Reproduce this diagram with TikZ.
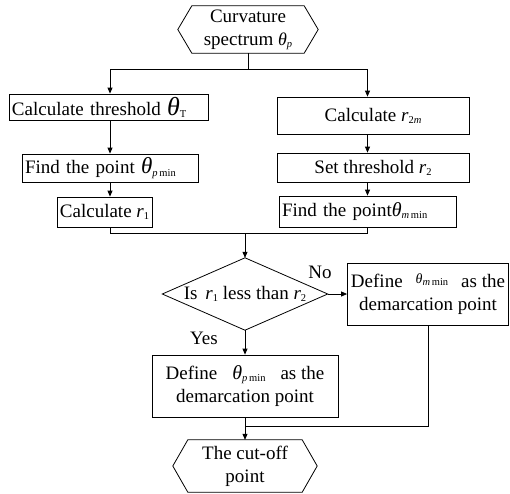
\documentclass[tikz,border=0pt]{standalone}
\usepackage{fontspec}
\setmainfont{Liberation Serif}
\usetikzlibrary{arrows.meta}
\newcommand\sbs[1]{\raisebox{-0.25ex}{\fontsize{10.5}{10.5}\selectfont #1}}
\newcommand\thet[1]{{\fontsize{#1}{#1}\selectfont\itshape θ}}
\begin{document}
\begin{tikzpicture}[x=1pt,y=1pt,
  every node/.style={font=\fontsize{19}{23}\selectfont, inner sep=0pt},
  ln/.style={line width=0.8pt},
  box/.style={draw, ln, align=center},
  lbox/.style={draw, ln, align=left, inner xsep=3pt, text width=#1},
  arr/.style={ln, -{Triangle[length=6pt,width=5pt]}}]
\useasboundingbox (0,0) rectangle (510,-493);

% start hexagon
\node[align=center, minimum width=112, minimum height=47] (start) at (248,-29.5)
  {Curvature\\spectrum \thet{18}\sbs{\itshape p}};
\draw[ln] ([xshift=-14]start.west) -- (start.north west) -- (start.north east)
  -- ([xshift=14]start.east) -- (start.south east) -- (start.south west) -- cycle;

% left column
\node[lbox=193, minimum height=26] (calcT) at (108.5,-107)
  {Calculate threshold \thet{26}\sbs{T}};
\node[lbox=170, minimum height=28] (findP) at (110,-168)
  {Find the point \thet{23}\sbs{\itshape p\,\upshape min}};
\node[box, minimum width=95, minimum height=30] (calcR1) at (104.5,-212)
  {Calculate {\itshape r}\sbs{1}};

% right column
\node[box, minimum width=192, minimum height=37] (calcR2) at (373,-115.5)
  {Calculate {\itshape r}\sbs{2\itshape m}};
\node[box, minimum width=192, minimum height=29] (setR2) at (373,-167.5)
  {Set threshold {\itshape r}\sbs{2}};
\node[lbox=171, minimum height=31] (findM) at (367.5,-211.5)
  {Find the point\thet{20}\sbs{\itshape m\,\upshape min}};

% diamond
\node[minimum width=165, minimum height=72] (dia) at (245,-294)
  {Is \,{\itshape r}\sbs{1} less than {\itshape r}\sbs{2}};
\draw[ln] (dia.west) -- (dia.north) -- (dia.east) -- (dia.south) -- cycle;

% define boxes
\node[box, minimum width=161, minimum height=62] (defM) at (428,-294)
  {Define\hspace{13pt}\raisebox{0.5ex}{\thet{14}\sbs{\itshape m\,\upshape min}}\hspace{13pt}as the\\demarcation point};
\node[box, minimum width=186, minimum height=62] (defP) at (245,-386)
  {Define\hspace{15pt}\thet{20}\sbs{\itshape p\,\upshape min}\hspace{15pt}as the\\demarcation point};

% end hexagon
\node[align=center, minimum width=114, minimum height=52] (stop) at (245,-466)
  {The cut-off\\point};
\draw[ln] ([xshift=-15]stop.west) -- (stop.north west) -- (stop.north east)
  -- ([xshift=15]stop.east) -- (stop.south east) -- (stop.south west) -- cycle;

% labels
\node (no) at (320,-272) {No};
\node (yes) at (204,-338) {Yes};

% connectors
\coordinate (j1) at (248,-69);
\coordinate (j2) at (245,-233);
\coordinate (j3) at (245,-426);
\draw[ln] (start.south) -- (j1);
\draw[arr] (j1) -| (findP.north |- calcT.north);
\draw[arr] (j1) -| (findM.north |- calcR2.north);
\draw[arr] (findP.north |- calcT.south) -- (findP.north);
\draw[arr] (findP.south) -- (findP.south |- calcR1.north);
\draw[arr] (findM.north |- calcR2.south) -- (findM.north |- setR2.north);
\draw[arr] (findM.north |- setR2.south) -- (findM.north);
\draw[ln] (findP.south |- calcR1.south) |- (j2);
\draw[ln] (findM.south) |- (j2);
\draw[arr] (j2) -- (dia.north);
\draw[arr] (dia.east) -- (defM.west);
\draw[arr] (dia.south) -- (defP.north);
\draw[ln] (defM.south) |- (j3);
\draw[arr] (defP.south) -- (stop.north);
\end{tikzpicture}
\end{document}
